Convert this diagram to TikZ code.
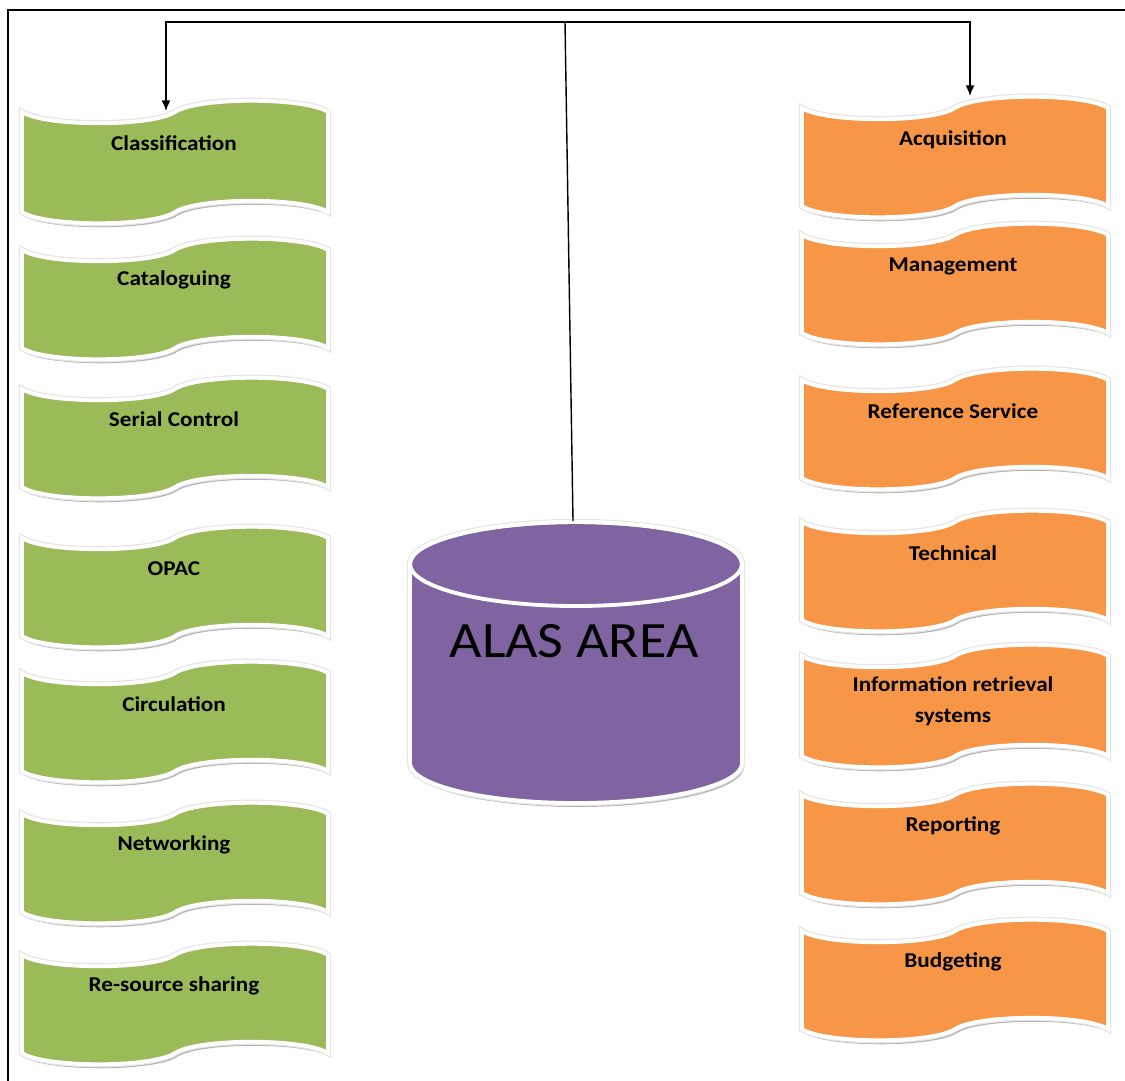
\documentclass[tikz,border=0pt]{standalone}
\usepackage{fontspec}
\setmainfont{Carlito}
\usetikzlibrary{arrows.meta}
\definecolor{modgreen}{HTML}{9BBB59}
\definecolor{modorange}{HTML}{F79646}
\definecolor{alaspurple}{HTML}{8064A2}
\newcommand{\tapepath}[4]{(#1,#3)
  .. controls (#1+0.3*\q,#3+15) and (#1+1.7*\q,#3+15) .. (#1+2*\q,#3)
  .. controls (#1+2.3*\q,#3-15) and (#2-0.3*\q,#3-15) .. (#2,#3)
  -- (#2,#4)
  .. controls (#2-0.3*\q,#4-15) and (#2-1.7*\q,#4-15) .. (#2-2*\q,#4)
  .. controls (#2-2.3*\q,#4+15) and (#1+0.3*\q,#4+15) .. (#1,#4) -- cycle}
\newcommand{\tape}[5]{% links/rechts/oben/unten/farbe
  \pgfmathsetmacro\q{(#2-#1)/4}
  \fill[tapeshadow] \tapepath{#1}{#2}{#3}{#4};
  \draw[gray!20, line width=3.6pt] \tapepath{#1}{#2}{#3}{#4};
  \filldraw[fill=#5, draw=white, line width=2.2pt] \tapepath{#1}{#2}{#3}{#4};
}
\tikzset{
  tapeshadow/.style={black!30, shift={(2,4)}},
  modtext/.style={font=\fontsize{12}{17.5}\selectfont\bfseries, align=center, xscale=1.1},
  alastext/.style={font=\fontsize{29}{32}\selectfont, xscale=1.1},
  link/.style={line width=0.8pt},
}

\begin{document}
\begin{tikzpicture}[x=0.02cm, y=-0.02cm]
    \useasboundingbox (0,0) rectangle (1125,1080);
    \draw[line width=1pt] (8,10) rectangle (1140,1095);  %Rahmen
    \foreach \name/\lbl/\yt/\yb/\ty in
    {
      cls/Classification/112/212/143,
      cat/Cataloguing/250/348/280,
      ser/Serial Control/389/487/419,
      opac/OPAC/538/636/569,
      circ/Circulation/673/771/704,
      net/Networking/814/912/845,
      res/Re-source sharing/955/1053/986
    }
    {
      \tape{22}{328}{\yt}{\yb}{modgreen}
      \node[modtext] (\name) at (174,\ty) {\lbl};
    };
    \foreach \name/\lbl/\yt/\yb/\ty in
    {
      acq/Acquisition/108/206/140,
      man/Management/235/333/266,
      ref/Reference Service/380/478/411,
      tech/Technical/522/620/553,
      info/Information retrieval\\systems/656/756/701,
      rep/Reporting/795/893/826,
      bud/Budgeting/931/1029/962
    }
    {
      \tape{802}{1108}{\yt}{\yb}{modorange}
      \node[modtext] (\name) at (953,\ty) {\lbl};
    };
    % Datenbank
    \fill[tapeshadow] (410,564) -- (410,763) arc[start angle=180, end angle=0, x radius=166, y radius=40]
      -- (742,564) arc[start angle=0, end angle=-180, x radius=166, y radius=42] -- cycle;
    \draw[gray!20, line width=3.6pt] (410,564) -- (410,763) arc[start angle=180, end angle=0, x radius=166, y radius=40]
      -- (742,564) arc[start angle=0, end angle=-180, x radius=166, y radius=42] -- cycle;
    \filldraw[fill=alaspurple, draw=white, line width=2.2pt] (410,564) -- (410,763)
      arc[start angle=180, end angle=0, x radius=166, y radius=40]
      -- (742,564) arc[start angle=0, end angle=-180, x radius=166, y radius=42] -- cycle;
    \draw[white, line width=2.2pt] (576,564) ellipse [x radius=166, y radius=42];
    \node[alastext] (alas) at (574,641) {ALAS AREA};
    \coordinate (alastop) at (573,521);
    \coordinate (hub) at (565,22);
    \coordinate (clstop) at (166,111);
    \coordinate (acqtop) at (970,96);
    \draw[link] (alastop) -- (hub);
    \draw[link, -{Latex[length=6pt, width=5pt]}] (hub) -| (clstop);
    \draw[link, -{Latex[length=6pt, width=5pt]}] (hub) -| (acqtop);
\end{tikzpicture}
\end{document}
